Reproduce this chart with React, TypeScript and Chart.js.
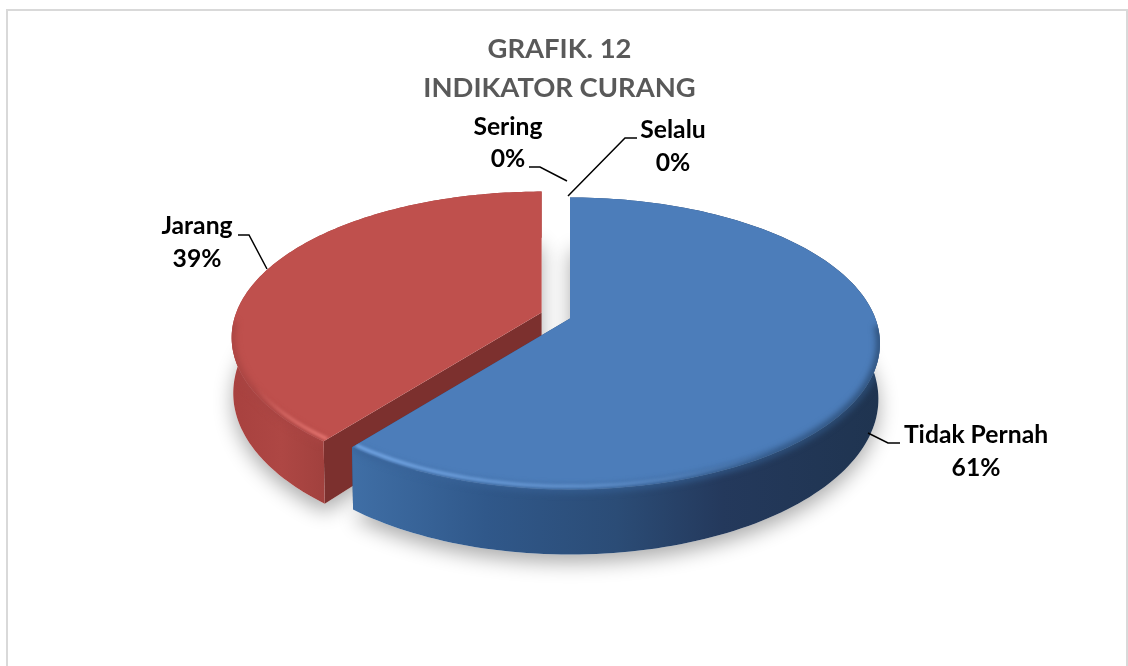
import React, { useEffect, useRef } from "react";
import { Chart, registerables } from "chart.js";

Chart.register(...registerables);

const titleLines = ["GRAFIK. 12", "INDIKATOR CURANG"];
const categories = ["Tidak Pernah", "Jarang", "Sering", "Selalu"];
const values = [60.6, 39.4, 0, 0];
const explode = [0, 30, 0, 0];

const topColors = ["#4c7dba", "#bf504d", "#9bbb59", "#8064a2"];
const cutColors = ["#2b4d78", "#7c302e", "#777", "#555"];
const hiColors = ["120,172,235", "232,120,115", "255,255,255", "255,255,255"];

const SHIFT_X = 10.5; // title is centred a little left of the pie
const PERSPECTIVE = 0.171;
const FLATTEN = 0.464;
const DEPTH = 54;
const BOTTOM_SCALE = 0.995;

const labelLayout = [
  { cx: 976, y1: 443, y2: 476, line: [[900, 443], [888, 443], [868, 433]] },
  { cx: 197, y1: 234, y2: 267, line: [[238, 235], [249, 235], [267, 269]] },
  { cx: 508, y1: 135, y2: 167, line: [[529, 167], [540, 167], [567, 181]] },
  { cx: 673, y1: 138, y2: 171, line: [[637, 138], [625, 138], [568, 196]] },
];

const pie3d = {
  id: "pie3d",
  beforeDatasetDraw(chart: any) {
    const ctx = chart.ctx as CanvasRenderingContext2D;
    const arcs = chart.getDatasetMeta(0).data as any[];
    const order = [1, 0];
    const geom = (i: number) => {
      const arc = arcs[i];
      const R = arc.outerRadius;
      const cx = arc.x + SHIFT_X;
      const cy = arc.y;
      const mid = (arc.startAngle + arc.endAngle) / 2;
      const off = explode[i];
      const dx = off * Math.cos(mid);
      const dy = off * Math.sin(mid) * 0.6;
      const top = (a: number, r = 1) => {
        const u = r * Math.cos(a), v = r * Math.sin(a);
        const w = 1 - PERSPECTIVE * v;
        return [cx + (R * u) / w + dx, cy + (R * FLATTEN * v) / w + dy];
      };
      const bot = (a: number, r = 1) => {
        const u = r * Math.cos(a), v = r * Math.sin(a);
        const w = 1 - PERSPECTIVE * v;
        return [cx + (BOTTOM_SCALE * R * u) / w + dx, cy + (R * FLATTEN * v + DEPTH) / w + dy];
      };
      const samples: number[] = [];
      const n = 160;
      for (let k = 0; k <= n; k++) samples.push(arc.startAngle + ((arc.endAngle - arc.startAngle) * k) / n);
      return { arc, top, bot, samples };
    };
    const poly = (pts: number[][], close = true) => {
      ctx.beginPath();
      pts.forEach((p, k) => (k ? ctx.lineTo(p[0], p[1]) : ctx.moveTo(p[0], p[1])));
      if (close) ctx.closePath();
    };
    const range = (a: number, b: number) => {
      const out: number[] = [];
      for (let k = 0; k <= 80; k++) out.push(a + ((b - a) * k) / 80);
      return out;
    };

    // soft shadow under the pie
    order.forEach((i) => {
      const g = geom(i);
      ctx.save();
      ctx.shadowColor = "rgba(0,0,0,0.33)";
      ctx.shadowBlur = 20;
      ctx.shadowOffsetY = 8;
      ctx.fillStyle = "#fff";
      poly([g.bot(g.arc.startAngle, 0), ...g.samples.map((a) => g.bot(a))]);
      ctx.fill();
      ctx.restore();
    });

    order.forEach((i) => {
      const { arc, top, bot, samples } = geom(i);
      const topPts = [top(arc.startAngle, 0), ...samples.map((a) => top(a))];
      const wallPts = [...samples.map((a) => top(a)), ...samples.slice().reverse().map((a) => bot(a))];

      // cut faces
      ctx.fillStyle = cutColors[i];
      [arc.startAngle, arc.endAngle].forEach((a: number) => {
        poly([top(a, 0), top(a), bot(a), bot(a, 0)]);
        ctx.fill();
      });

      // outer wall
      const wallGrad = ctx.createLinearGradient(i === 0 ? 355 : 232, 0, i === 0 ? 880 : 330, 0);
      if (i === 0) {
        wallGrad.addColorStop(0, "#3f6ea5");
        wallGrad.addColorStop(0.25, "#30588a");
        wallGrad.addColorStop(0.5, "#2b4c76");
        wallGrad.addColorStop(0.7, "#24395c");
        wallGrad.addColorStop(1, "#1f3450");
      } else {
        wallGrad.addColorStop(0, "#a8413f");
        wallGrad.addColorStop(0.5, "#ae4744");
        wallGrad.addColorStop(1, "#a0403d");
      }
      ctx.fillStyle = wallGrad;
      poly(wallPts);
      ctx.fill();

      // top face
      ctx.fillStyle = topColors[i];
      poly(topPts);
      ctx.fill();

      // bevel: dark blend and highlight, kept inside the slice body
      ctx.save();
      ctx.beginPath();
      [topPts, wallPts].forEach((pts) => {
        pts.forEach((p, k) => (k ? ctx.lineTo(p[0], p[1]) : ctx.moveTo(p[0], p[1])));
        ctx.closePath();
      });
      ctx.clip();

      const front =
        i === 0
          ? range(Math.max(arc.startAngle, 0.05), Math.min(arc.endAngle, Math.PI * 0.72))
          : range(arc.startAngle, Math.min(arc.endAngle, Math.PI * 0.98));
      const rim = ctx.createLinearGradient(i === 0 ? 355 : 232, 0, i === 0 ? 880 : 330, 0);
      if (i === 0) {
        rim.addColorStop(0, "#3a659b");
        rim.addColorStop(0.6, "#32598a");
        rim.addColorStop(1, "#2c4d75");
      } else {
        rim.addColorStop(0, "#a84442");
        rim.addColorStop(1, "#a84442");
      }
      ctx.filter = "blur(3px)";
      ctx.strokeStyle = rim;
      ctx.lineWidth = 7;
      poly(front.map((a) => top(a, 1)), false);
      ctx.stroke();

      ctx.filter = "blur(1.6px)";
      const hi = ctx.createLinearGradient(i === 0 ? 355 : 322, 0, i === 0 ? 780 : 255, 0);
      hi.addColorStop(0, `rgba(${hiColors[i]},0.95)`);
      hi.addColorStop(0.55, `rgba(${hiColors[i]},0.6)`);
      hi.addColorStop(1, `rgba(${hiColors[i]},0)`);
      ctx.strokeStyle = hi;
      ctx.lineWidth = 3.5;
      poly(front.map((a) => top(a, 0.985)), false);
      ctx.stroke();
      ctx.restore();
    });
    return false; // the slices were painted above from the library's arc elements
  },
};

const labelsPlugin = {
  id: "leaderLabels",
  afterDatasetsDraw(chart: any) {
    const ctx = chart.ctx as CanvasRenderingContext2D;
    const total = values.reduce((a, b) => a + b, 0);
    ctx.save();
    ctx.strokeStyle = "#000";
    ctx.lineWidth = 1.5;
    ctx.fillStyle = "#000";
    ctx.font = 'bold 24.7px Lato, "Open Sans", sans-serif';
    ctx.textAlign = "center";
    ctx.textBaseline = "alphabetic";
    categories.forEach((name, i) => {
      const l = labelLayout[i];
      ctx.beginPath();
      l.line.forEach((p, k) => (k ? ctx.lineTo(p[0], p[1]) : ctx.moveTo(p[0], p[1])));
      ctx.stroke();
      ctx.fillText(name, l.cx, l.y1);
      ctx.fillText(`${Math.round((values[i] / total) * 100)}%`, l.cx, l.y2);
    });
    ctx.restore();
  },
};

const framePlugin = {
  id: "frame",
  beforeDraw(chart: any) {
    const ctx = chart.ctx as CanvasRenderingContext2D;
    ctx.save();
    ctx.fillStyle = "#fff";
    ctx.fillRect(0, 0, chart.width, chart.height);
    ctx.strokeStyle = "#d9d9d9";
    ctx.lineWidth = 2;
    ctx.beginPath();
    ctx.moveTo(7, chart.height + 2);
    ctx.lineTo(7, 10);
    ctx.lineTo(1127, 10);
    ctx.lineTo(1127, chart.height + 2);
    ctx.stroke();
    ctx.restore();
  },
};

export default function App() {
  const ref = useRef<HTMLCanvasElement>(null);
  useEffect(() => {
    const chart = new Chart(ref.current!, {
      type: "pie",
      data: {
        labels: categories,
        datasets: [{ data: values, backgroundColor: topColors, borderWidth: 0, radius: 305.4 } as any],
      },
      options: {
        responsive: false,
        animation: false,
        layout: { padding: { left: 10, right: 19, top: 30, bottom: 137 } },
        plugins: {
          legend: { display: false },
          tooltip: { enabled: false },
          title: {
            display: true,
            text: titleLines,
            color: "#595959",
            font: { family: 'Lato, "Open Sans", sans-serif', size: 27.4, weight: "bold", lineHeight: 1.423 },
            padding: 0,
          },
        },
      } as any,
      plugins: [framePlugin, pie3d, labelsPlugin],
    });
    return () => chart.destroy();
  }, []);
  return (
    <div style={{ position: "fixed", left: 0, top: 0, width: 1128, height: 666 }}>
      <canvas ref={ref} width={1128} height={666} style={{ display: "block" }} />
    </div>
  );
}
